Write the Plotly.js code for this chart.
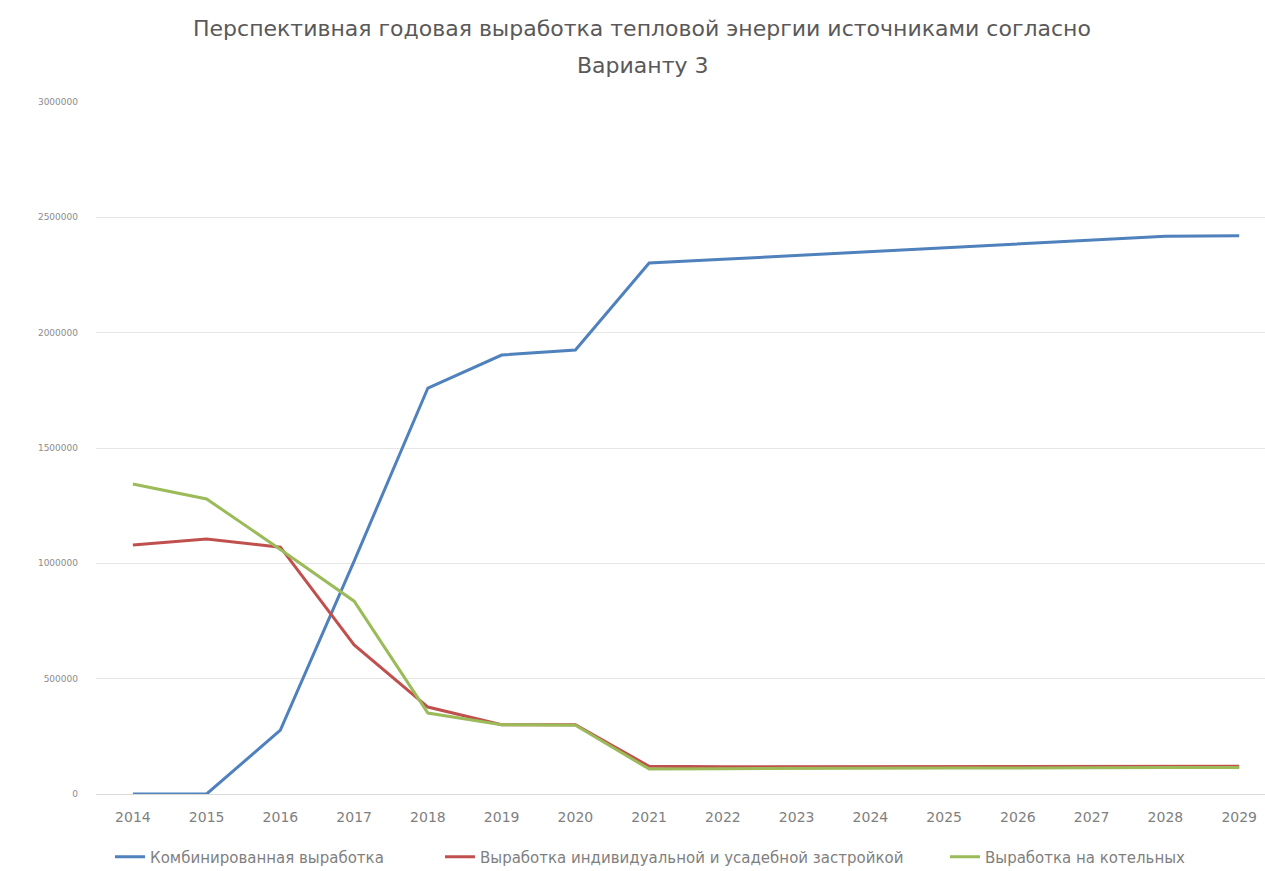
<!DOCTYPE html>
<html>
<head>
<meta charset="utf-8">
<script src="https://cdn.plot.ly/plotly-3.0.1.min.js"></script>
<style>html,body{margin:0;padding:0;background:#fff}#chart{width:1265px;height:871px}</style>
</head>
<body>
<div id="chart"></div>
<script>
const years = ["2014","2015","2016","2017","2018","2019","2020","2021","2022","2023","2024","2025","2026","2027","2028","2029"];
const combined = [0, 0, 277000, 1010000, 1760000, 1903000, 1925000, 2302000, 2318000, 2335000, 2352000, 2368000, 2383000, 2400000, 2418000, 2420000];
const individual = [1079000, 1105000, 1070000, 646000, 377000, 300000, 300000, 120000, 118000, 118000, 120000, 120000, 120000, 118000, 120000, 120000];
const boilers = [1344000, 1279000, 1060000, 836000, 351000, 300000, 298000, 108000, 110000, 112000, 113000, 113000, 113000, 115000, 115000, 115000];
const seriesNames = ["Комбинированная выработка", "Выработка индивидуальной и усадебной застройкой", "Выработка на котельных"];
const titleLines = ["Перспективная годовая выработка тепловой энергии источниками согласно", "Варианту 3"];
const yTicks = [0, 500000, 1000000, 1500000, 2000000, 2500000, 3000000];

const FONT = "DejaVu Sans, Verdana, sans-serif";
const colors = ["#4F81BD", "#C0504D", "#9BBB59"];
const legendIds = ["legend", "legend2", "legend3"];
const legendX = [110, 440, 945];
const data = [combined, individual, boilers].map((vals, i) => ({
  type: "scatter", mode: "lines", x: years, y: vals, name: seriesNames[i],
  legend: legendIds[i],
  line: {color: colors[i], width: 3}
}));

function legendSpec(px) {
  return {orientation: "h", xref: "container", yref: "container", x: px / 1265, xanchor: "left",
          y: 1 - 857 / 871, yanchor: "middle", bgcolor: "rgba(0,0,0,0)",
          font: {family: FONT, size: 15, color: "#7f7f7f"}};
}

const layout = {
  width: 1265, height: 871,
  paper_bgcolor: "#fff", plot_bgcolor: "#fff",
  font: {family: FONT, color: "#595959", size: 12},
  title: {text: titleLines[0], xref: "container", yref: "container", x: 642 / 1265, xanchor: "center",
          y: 1 - 28 / 871, yanchor: "middle", font: {family: FONT, size: 22, color: "#595959"}},
  annotations: [{text: titleLines[1], xref: "paper", yref: "paper", x: (643 - 96) / 1169, y: (794 - 66) / 692,
                 xanchor: "center", yanchor: "middle", showarrow: false, font: {family: FONT, size: 22, color: "#595959"}}],
  margin: {l: 96, r: 0, t: 102, b: 77},
  xaxis: {type: "category", range: [-0.5, 15.35], showgrid: false, zeroline: false,
          showline: true, linecolor: "#d9d9d9", linewidth: 1, ticks: "", ticklabelstandoff: 10,
          tickfont: {family: FONT, size: 14, color: "#7f7f7f"}},
  yaxis: {range: [0, 3000000], tickvals: yTicks, ticktext: yTicks.map(String), showgrid: true, gridcolor: "#e6e6e6",
          zeroline: false, showline: false, ticks: "", ticklabelstandoff: 17,
          tickfont: {family: FONT, size: 9, color: "#8c8c8c"}},
  legend: legendSpec(legendX[0]),
  legend2: legendSpec(legendX[1]),
  legend3: legendSpec(legendX[2]),
  showlegend: true
};
Plotly.newPlot("chart", data, layout, {displayModeBar: false});
</script>
</body>
</html>
